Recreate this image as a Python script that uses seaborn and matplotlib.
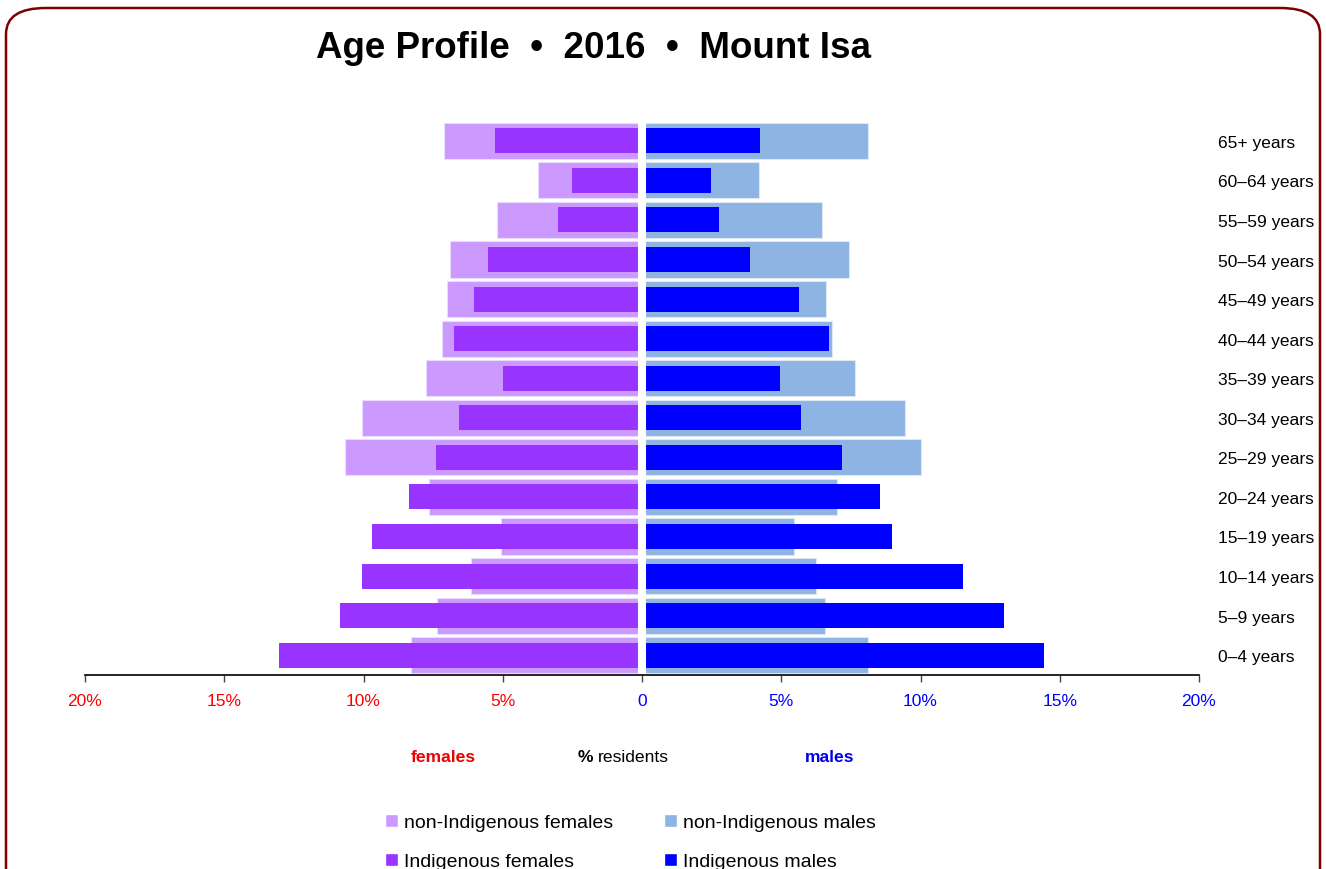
import matplotlib
matplotlib.use("Agg")
import matplotlib.pyplot as plt
import seaborn as sns
import pandas as pd
from matplotlib.patches import Patch, FancyBboxPatch
from matplotlib import font_manager

sns.set_style("white")
names = {f.name for f in font_manager.fontManager.ttflist}
narrow = "Liberation Sans Narrow" if "Liberation Sans Narrow" in names else "Liberation Sans"
plt.rcParams['font.family'] = [narrow, 'DejaVu Sans']
plt.rcParams['text.color'] = 'black'

ages = ['65+ years', '60–64 years', '55–59 years', '50–54 years', '45–49 years',
        '40–44 years', '35–39 years', '30–34 years', '25–29 years', '20–24 years',
        '15–19 years', '10–14 years', '5–9 years', '0–4 years']
non_indig_females = [7.12, 3.74, 5.22, 6.91, 7.01, 7.19, 7.77, 10.07, 10.65, 7.66, 5.07, 6.15, 7.37, 8.31]
indig_females = [5.29, 2.52, 3.02, 5.54, 6.04, 6.76, 5.00, 6.58, 7.41, 8.38, 9.71, 10.07, 10.86, 13.02]
non_indig_males = [8.13, 4.21, 6.47, 7.45, 6.62, 6.83, 7.66, 9.46, 10.00, 7.01, 5.47, 6.26, 6.58, 8.13]
indig_males = [4.24, 2.48, 2.77, 3.88, 5.65, 6.73, 4.96, 5.72, 7.19, 8.53, 8.96, 11.51, 12.99, 14.42]
tick_vals = [-20, -15, -10, -5, 0, 5, 10, 15, 20]
tick_labels = ['20%', '15%', '10%', '5%', '0', '5%', '10%', '15%', '20%']

df = pd.DataFrame({'age': ages,
                   'nF': [-v for v in non_indig_females],
                   'iF': [-v for v in indig_females],
                   'nM': non_indig_males,
                   'iM': indig_males})

c_nF, c_iF, c_nM, c_iM = '#CC99FF', '#9933FF', '#8DB4E2', '#0000FF'

fig = plt.figure(figsize=(13.26, 8.7), dpi=100)
ax = fig.add_axes([85/1326, 1-676/870, (1199-85)/1326, (676-122)/870])

# light (non-Indigenous) bars behind, darker (Indigenous) bars in front
sns.barplot(data=df, x='nF', y='age', color=c_nF, width=0.91, ax=ax, edgecolor='#e8dcff', linewidth=0.8, saturation=1)
sns.barplot(data=df, x='nM', y='age', color=c_nM, width=0.91, ax=ax, edgecolor='#dde8f5', linewidth=0.8, saturation=1)
sns.barplot(data=df, x='iF', y='age', color=c_iF, width=0.63, ax=ax, edgecolor='none', saturation=1)
sns.barplot(data=df, x='iM', y='age', color=c_iM, width=0.63, ax=ax, edgecolor='none', saturation=1)
ax.axvline(0, color='white', lw=5.8, zorder=5)

ax.set_xlim(-20, 20)
ax.set_ylim(13.5, -0.5)
ax.set_xlabel('')
ax.set_ylabel('')
for s in ['top', 'left', 'right']:
    ax.spines[s].set_visible(False)
ax.spines['bottom'].set_color('black')
ax.spines['bottom'].set_linewidth(1.2)
ax.spines['bottom'].set_zorder(6)

ax.set_xticks(tick_vals)
ax.set_xticklabels(tick_labels, fontsize=12.5)
ax.tick_params(axis='x', length=5, width=1, color='#444444', pad=8, bottom=True)
for v, lab in zip(tick_vals, ax.get_xticklabels()):
    lab.set_color('#FF0000' if v < 0 else '#0000FF')

ax.yaxis.tick_right()
ax.tick_params(axis='y', length=0, pad=14, labelsize=12.5, labelcolor='black')
for lab in ax.get_yticklabels():
    lab.set_horizontalalignment('left')

fig.text(593/1326, 1-49/870, 'Age Profile  •  2016  •  Mount Isa', ha='center', va='center',
         fontsize=26.5, fontweight='bold', family=['Liberation Sans', 'DejaVu Sans'])

fy = 1 - 758/870
fig.text(443/1326, fy, 'females', color='#EE0000', fontweight='bold', fontsize=12.6, ha='center', va='center')
fig.text(578/1326, fy, '%', color='black', fontweight='bold', fontsize=12.6, ha='left', va='center')
fig.text(598/1326, fy, 'residents', color='black', fontsize=12.6, ha='left', va='center')
fig.text(830/1326, fy, 'males', color='#0000EE', fontweight='bold', fontsize=12.6, ha='center', va='center')

handles = [Patch(facecolor=c_nF, label='non-Indigenous females'),
           Patch(facecolor=c_iF, label='Indigenous females'),
           Patch(facecolor=c_nM, label='non-Indigenous males'),
           Patch(facecolor=c_iM, label='Indigenous males')]
fig.legend(handles=handles, ncol=2, loc='upper left', bbox_to_anchor=(375/1326, 1-805/870),
           frameon=False, fontsize=14, handlelength=0.7, handleheight=0.7, handletextpad=0.3,
           columnspacing=2.6, labelspacing=1.1, borderpad=0)

border = FancyBboxPatch((6/1326, -0.05), 1314/1326, 1.05 - 9/870,
                        boxstyle='round,pad=0,rounding_size=0.03', transform=fig.transFigure,
                        facecolor='none', edgecolor='#7F0000', linewidth=1.8, clip_on=False)
fig.patches.append(border)

fig.savefig('out.png', dpi=100)
